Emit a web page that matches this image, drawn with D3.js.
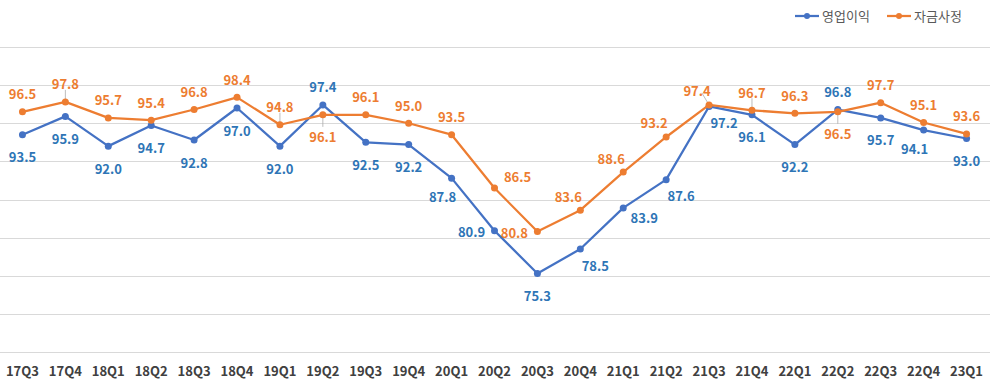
<!DOCTYPE html>
<html lang="ko">
<head>
  <meta charset="UTF-8" />
  <title>영업이익 / 자금사정</title>
  <script src="https://d3js.org/d3.v7.min.js"></script>
  <style>
    body {
      margin: 0;
      background: #ffffff;
      font-family: "Noto Sans CJK KR", "Noto Sans", sans-serif;
    }
    svg { display: block; }
    .grid line { stroke: #d9d9d9; stroke-width: 1; }
    .tick-label { font-size: 13px; font-weight: 700; fill: #404040; }
    .value-label { font-size: 13px; font-weight: 700; }
    .leader { stroke: #a6a6a6; stroke-width: 0.75; }
    .legend text { font-size: 13px; fill: #595959; }
  </style>
</head>
<body>
<svg id="chart" width="1000" height="384"></svg>

<script>
const quarters = ["17Q3", "17Q4", "18Q1", "18Q2", "18Q3", "18Q4", "19Q1", "19Q2", "19Q3", "19Q4",
  "20Q1", "20Q2", "20Q3", "20Q4", "21Q1", "21Q2", "21Q3", "21Q4", "22Q1", "22Q2", "22Q3", "22Q4", "23Q1"];

const profit = [93.5, 95.9, 92.0, 94.7, 92.8, 97.0, 92.0, 97.4, 92.5, 92.2, 87.8, 80.9,
  75.3, 78.5, 83.9, 87.6, 97.2, 96.1, 92.2, 96.8, 95.7, 94.1, 93.0];

const funds = [96.5, 97.8, 95.7, 95.4, 96.8, 98.4, 94.8, 96.1, 96.1, 95.0, 93.5, 86.5,
  80.8, 83.6, 88.6, 93.2, 97.4, 96.7, 96.3, 96.5, 97.7, 95.1, 93.6];

const gridValues = [65, 70, 75, 80, 85, 90, 95, 100, 105];

// where each data label sits relative to its point
const profitPlacement = ["b", "b", "b", "b", "b", "b", "b", "a", "b", "b", "bl", "l",
  "b", "br", "r", "br", "br", "b", "b", "a", "b", "bl", "b"];
const fundsPlacement = ["a", "a", "a", "a", "a", "a", "a", "b", "a", "a", "a", "ar",
  "l", "al", "al", "al", "al", "a", "a", "b", "a", "a", "a"];

// labels that keep a thin leader line back to their point
const profitLeaders = [];
const fundsLeaders = [1, 6, 7, 16, 17, 19];

const offsets = {
  a: [0, -18], b: [0, 22], l: [-23, 1], r: [21, 10],
  bl: [-9, 18], br: [15, 16], al: [-12, -14], ar: [23, -12]
};

const series = [
  { name: "영업이익", values: profit, placement: profitPlacement, leaders: profitLeaders, line: "#4472c4", text: "#2e75b6" },
  { name: "자금사정", values: funds, placement: fundsPlacement, leaders: fundsLeaders, line: "#ed7d31", text: "#ed7d31" }
];

const svg = d3.select("#chart");

const x = d3.scaleBand().domain(quarters).range([1, 988]).paddingInner(0);
const y = d3.scaleLinear().domain([65, 105]).range([352, 47]);
const cx = d => x(d) + x.bandwidth() / 2;

// gridlines
svg.append("g").attr("class", "grid")
  .selectAll("line")
  .data(gridValues)
  .join("line")
  .attr("x1", 0).attr("x2", 990)
  .attr("y1", d => Math.round(y(d)) + 0.5)
  .attr("y2", d => Math.round(y(d)) + 0.5);

// category labels
svg.append("g")
  .selectAll("text")
  .data(quarters)
  .join("text")
  .attr("class", "tick-label")
  .attr("x", d => cx(d))
  .attr("y", 376)
  .attr("text-anchor", "middle")
  .text(d => d);

const line = d3.line()
  .x((d, i) => cx(quarters[i]))
  .y(d => y(d));

// leader lines sit under the series
series.forEach(s => {
  svg.append("g")
    .selectAll("line")
    .data(s.leaders)
    .join("line")
    .attr("class", "leader")
    .attr("x1", i => cx(quarters[i]))
    .attr("y1", i => y(s.values[i]))
    .attr("x2", i => cx(quarters[i]) + offsets[s.placement[i]][0] * 0.6)
    .attr("y2", i => y(s.values[i]) + Math.sign(offsets[s.placement[i]][1]) * 12);
});

series.forEach(s => {
  const g = svg.append("g");
  g.append("path")
    .attr("d", line(s.values))
    .attr("fill", "none")
    .attr("stroke", s.line)
    .attr("stroke-width", 2.25)
    .attr("stroke-linejoin", "round");
  g.selectAll("circle")
    .data(s.values)
    .join("circle")
    .attr("cx", (d, i) => cx(quarters[i]))
    .attr("cy", d => y(d))
    .attr("r", 3.5)
    .attr("fill", s.line);
});

series.forEach(s => {
  svg.append("g")
    .selectAll("text")
    .data(s.values)
    .join("text")
    .attr("class", "value-label")
    .attr("fill", s.text)
    .attr("text-anchor", "middle")
    .attr("dominant-baseline", "central")
    .attr("x", (d, i) => cx(quarters[i]) + offsets[s.placement[i]][0])
    .attr("y", (d, i) => y(d) + offsets[s.placement[i]][1])
    .text(d => d.toFixed(1));
});

// legend
const legend = svg.append("g").attr("class", "legend");
const legendX = [795, 887];
series.forEach((s, i) => {
  const lg = legend.append("g").attr("transform", `translate(${legendX[i]},16)`);
  lg.append("line").attr("x1", 0).attr("x2", 24).attr("stroke", s.line).attr("stroke-width", 2.25);
  lg.append("circle").attr("cx", 12).attr("r", 3).attr("fill", s.line);
  lg.append("text").attr("x", 27).attr("dy", "0.35em").text(s.name);
});
</script>
</body>
</html>
